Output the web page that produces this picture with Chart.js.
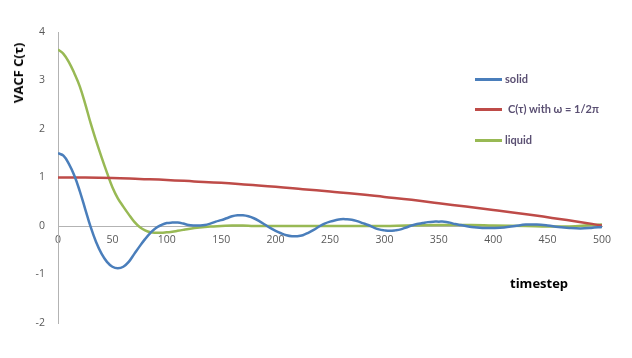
<!DOCTYPE html>
<html><head><meta charset="utf-8">
<script src="https://cdn.jsdelivr.net/npm/chart.js@4"></script>
<style>
html,body{margin:0;padding:0;background:#fff;}
#wrap{position:relative;width:632px;height:358px;}
canvas{position:absolute;left:0;top:0;}
.t{position:absolute;font-family:"Open Sans",sans-serif;font-weight:bold;white-space:nowrap;}
.lg{position:absolute;font-family:Lato,"Open Sans",sans-serif;font-weight:bold;font-size:11px;color:#5a4f72;white-space:nowrap;line-height:14px;}
.ln{position:absolute;height:3px;width:27px;}
</style></head><body>
<div id="wrap">
<canvas id="c" width="632" height="358"></canvas>
<div class="t" style="left:18px;top:73px;font-size:13px;transform:translate(-50%,-50%) rotate(-90deg);">VACF C(τ)</div>
<div class="t" style="left:510px;top:274px;font-size:13px;">timestep</div>
<div class="ln" style="left:475px;top:78px;background:#4a7ebb;"></div>
<div class="lg" style="left:505px;top:72px;">solid</div>
<div class="ln" style="left:475px;top:108px;background:#be4b48;"></div>
<div class="lg" style="left:508px;top:102px;">C(τ) with ω = 1/2π</div>
<div class="ln" style="left:475px;top:139px;background:#98b954;"></div>
<div class="lg" style="left:505px;top:133px;">liquid</div>
</div>
<script>
const solidT = [0,5,10,15,20,25,30,35,40,45,50,55,60,65,70,75,80,85,90,95,100,105,110,115,120,125,130,135,140,145,150,155,160,165,170,175,180,185,190,195,200,205,210,215,220,225,230,235,240,245,250,255,260,265,270,275,280,285,290,295,300,305,310,315,320,325,330,335,340,345,350,355,360,365,370,380,390,400,410,420,430,440,450,460,470,480,490,500];
const solidV = [1.50,1.45,1.28,1.04,0.72,0.35,-0.02,-0.33,-0.57,-0.74,-0.84,-0.87,-0.84,-0.74,-0.58,-0.42,-0.27,-0.14,-0.04,0.02,0.06,0.07,0.07,0.05,0.02,0.01,0.01,0.02,0.05,0.09,0.12,0.16,0.20,0.22,0.22,0.20,0.16,0.10,0.03,-0.04,-0.10,-0.15,-0.19,-0.21,-0.21,-0.19,-0.14,-0.08,-0.01,0.05,0.09,0.12,0.14,0.14,0.13,0.10,0.06,0.02,-0.03,-0.07,-0.09,-0.10,-0.09,-0.07,-0.03,0.01,0.04,0.06,0.08,0.09,0.09,0.09,0.07,0.04,0.02,-0.02,-0.04,-0.04,-0.03,0.00,0.03,0.03,0.01,-0.02,-0.04,-0.05,-0.04,-0.02];
const cosT = [0,25,50,75,100,125,150,175,200,225,250,275,300,325,350,375,400,425,450,475,500];
const cosV = [1.00,1.00,0.99,0.97,0.95,0.92,0.89,0.85,0.81,0.76,0.71,0.66,0.60,0.54,0.47,0.40,0.33,0.26,0.18,0.10,0.01];
const liquidT = [0,5,10,15,20,25,30,35,40,45,50,55,60,65,70,75,80,85,90,95,100,105,110,115,120,130,140,150,160,170,180,200,250,300,320,350,380,400,430,450,470,490,500];
const liquidV = [3.64,3.55,3.38,3.15,2.88,2.52,2.12,1.76,1.42,1.10,0.80,0.57,0.40,0.24,0.09,-0.02,-0.09,-0.13,-0.14,-0.14,-0.13,-0.12,-0.10,-0.08,-0.06,-0.03,-0.01,0.00,0.01,0.01,0.00,0.00,0.00,0.00,0.01,0.02,0.02,0.01,0.00,-0.01,-0.01,0.02,0.03];
const xTicks = [0,50,100,150,200,250,300,350,400,450,500];
const yTicks = [-2,-1,0,1,2,3,4];

const pts = (t,v)=>t.map((x,i)=>({x:x,y:v[i]}));
const ds = (label,t,v,color)=>({label,data:pts(t,v),borderColor:color,backgroundColor:color,borderWidth:2.5,pointRadius:0,tension:0.4,fill:false});

new Chart(document.getElementById('c'),{
  type:'line',
  data:{datasets:[
    ds('solid',solidT,solidV,'#4a7ebb'),
    ds('C(τ) with ω = 1/2π',cosT,cosV,'#be4b48'),
    ds('liquid',liquidT,liquidV,'#98b954')
  ]},
  options:{
    responsive:false,animation:false,
    layout:{padding:{left:0,top:32,right:30,bottom:35}},
    plugins:{legend:{display:false},tooltip:{enabled:false}},
    scales:{
      x:{type:'linear',min:0,max:500,position:{y:0},
        afterBuildTicks:(s)=>{s.ticks=xTicks.map(v=>({value:v}));},
        ticks:{color:'#595959',font:{family:'Open Sans',size:10.5},padding:8,maxRotation:0,autoSkip:false},
        grid:{display:true,drawOnChartArea:false,drawTicks:false},
        border:{display:true,color:'#b3b3b3',width:1}},
      y:{type:'linear',min:-2,max:4,
        afterBuildTicks:(s)=>{s.ticks=yTicks.map(v=>({value:v}));},
        afterFit:(s)=>{s.width=58;},
        ticks:{color:'#595959',font:{family:'Open Sans',size:10.5},padding:13},
        grid:{display:true,drawOnChartArea:false,drawTicks:false},
        border:{display:true,color:'#b3b3b3',width:1}}
    }
  }
});
</script>
</body></html>
